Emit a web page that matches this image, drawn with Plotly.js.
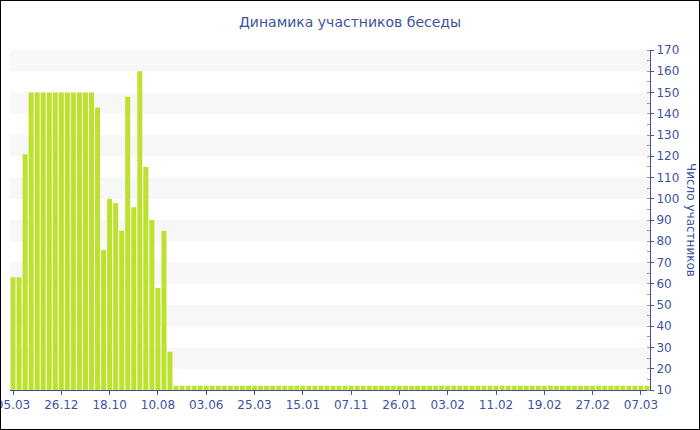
<!DOCTYPE html>
<html>
<head>
<meta charset="utf-8">
<script src="https://cdn.plot.ly/plotly-3.0.1.min.js"></script>
<style>
  html, body { margin: 0; padding: 0; background: #fff; }
  #wrap { position: relative; width: 700px; height: 430px; }
  #chart { position: absolute; left: 0; top: 0; width: 700px; height: 430px; }
  #frame { position: absolute; left: 0; top: 0; width: 700px; height: 430px; box-sizing: border-box; border: 1px solid #000; pointer-events: none; }
</style>
</head>
<body>
<div id="wrap"><div id="chart"></div><div id="frame"></div></div>
<script>
// Chart data
const title = "Динамика участников беседы";
const yTitle = "Число участников";
const tickLabels = ["05.03", "26.12", "18.10", "10.08", "03.06", "25.03", "15.01",
                    "07.11", "26.01", "03.02", "11.02", "19.02", "27.02", "07.03"];
const participants = [
  63, 63, 121, 150, 150, 150, 150, 150, 150, 150, 150, 150, 150, 150,
  143, 76, 100, 98, 85, 148, 96, 160, 115, 90, 58, 85, 28,
  12, 12, 12, 12, 12, 12, 12, 12, 12, 12, 12, 12, 12, 12, 12, 12, 12, 12, 12, 12,
  12, 12, 12, 12, 12, 12, 12, 12, 12, 12, 12, 12, 12, 12, 12, 12, 12, 12, 12, 12,
  12, 12, 12, 12, 12, 12, 12, 12, 12, 12, 12, 12, 12, 12, 12, 12, 12, 12, 12, 12,
  12, 12, 12, 12, 12, 12, 12, 12, 12, 12, 12, 12, 12, 12, 12, 12, 12, 12, 12
];
const tickStep = 8;
const axisBase = 10;

const xIdx = participants.map((_, i) => i);
const tickVals = tickLabels.map((_, i) => i * tickStep);

const blue = "#3d53a0";
const font = "DejaVu Sans, Verdana, sans-serif";

const shapes = [];
for (let y = 20; y < 170; y += 20) {
  shapes.push({type: "rect", xref: "paper", yref: "y", x0: 0, x1: 1, y0: y, y1: y + 10,
    fillcolor: "#f7f7f7", line: {width: 0}, layer: "below"});
}

const data = [{
  type: "bar",
  x: xIdx,
  y: participants.map(v => v - axisBase),
  base: axisBase,
  marker: {color: "#bde12f", line: {width: 0}},
  hoverinfo: "skip"
}];

const layout = {
  width: 700, height: 430,
  margin: {l: 10, r: 50, t: 50, b: 40},
  paper_bgcolor: "#fff", plot_bgcolor: "rgba(0,0,0,0)",
  bargap: 0.17,
  showlegend: false,
  font: {family: font, size: 12, color: blue},
  title: {text: title, font: {family: font, size: 14, color: blue},
          x: 0.5, xanchor: "center", y: 1 - 22/430, yanchor: "middle", yref: "container"},
  xaxis: {
    range: [-0.5, participants.length - 0.5],
    tickmode: "array", tickvals: tickVals, ticktext: tickLabels,
    ticklabeloverflow: "allow",
    showgrid: false, zeroline: false,
    showline: true, linecolor: blue, linewidth: 1,
    ticks: "outside", ticklen: 4, tickcolor: blue,
    tickfont: {family: font, size: 12, color: blue},
    fixedrange: true
  },
  yaxis: {
    side: "right",
    range: [10, 170], dtick: 10, tick0: 10,
    showgrid: false, zeroline: false,
    showline: true, linecolor: blue, linewidth: 1,
    ticks: "outside", ticklen: 3, tickcolor: blue,
    minor: {dtick: 5, ticks: "inside", ticklen: 3, tickcolor: "#8a96c4", showgrid: false},
    tickfont: {family: font, size: 12, color: blue},
    fixedrange: true
  },
  shapes: shapes,
  annotations: [{
    text: yTitle, textangle: 90,
    xref: "paper", yref: "paper", x: 1, xshift: 41, y: 0.5,
    xanchor: "center", yanchor: "middle", showarrow: false,
    font: {family: font, size: 12, color: blue}
  }]
};

Plotly.newPlot("chart", data, layout, {displayModeBar: false, staticPlot: true});
</script>
</body>
</html>
